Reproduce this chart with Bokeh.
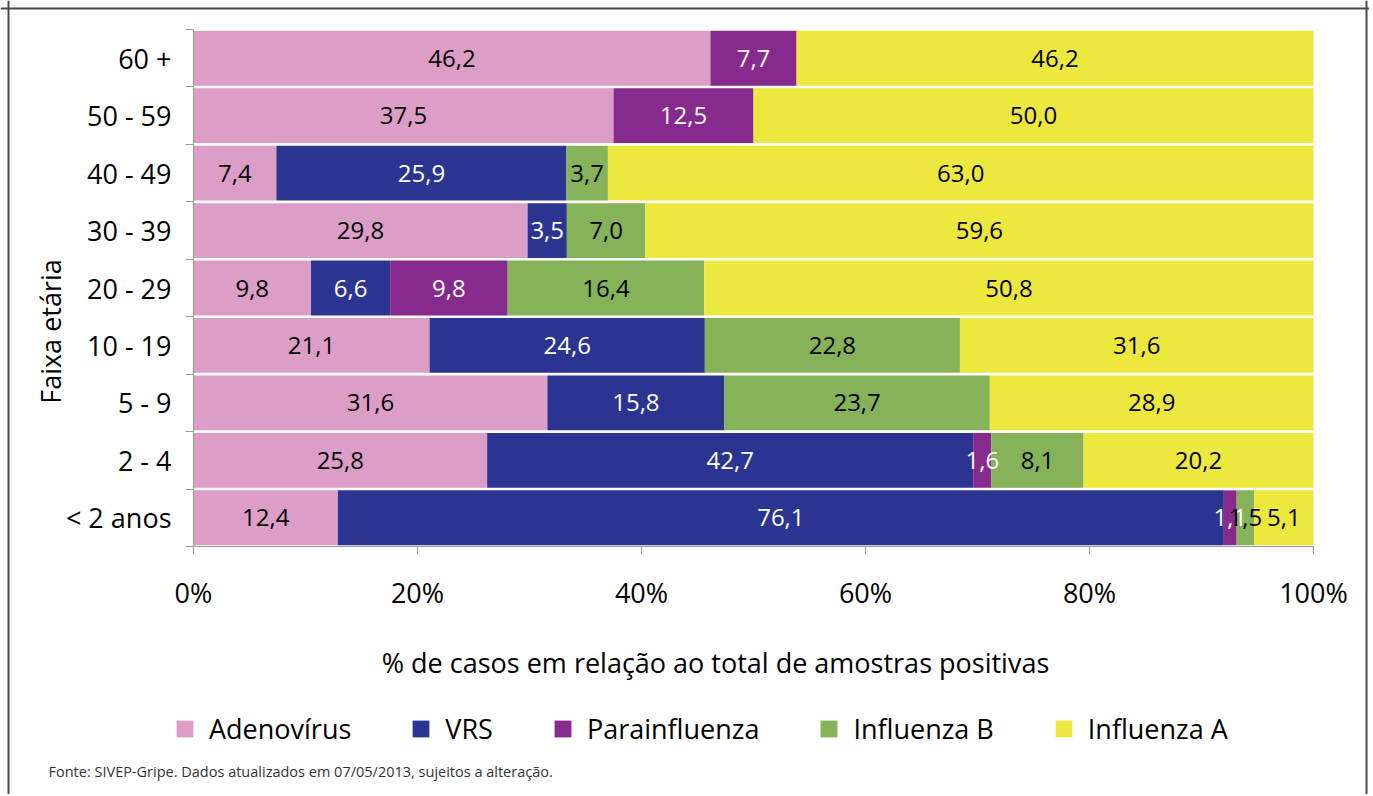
from bokeh.plotting import figure
from bokeh.models import (Range1d, FixedTicker, ColumnDataSource, Legend,
                          LegendItem, Label, Span)
from bokeh.embed import file_html
from bokeh.resources import INLINE
from bokeh.core.properties import value

# ---------------- data ----------------
age_groups = ["< 2 anos", "2 - 4", "5 - 9", "10 - 19", "20 - 29",
              "30 - 39", "40 - 49", "50 - 59", "60 +"]
series_names = ["Adenovírus", "VRS", "Parainfluenza", "Influenza B", "Influenza A"]
adenovirus = [12.4, 25.8, 31.6, 21.1, 9.8, 29.8, 7.4, 37.5, 46.2]
vrs = [76.1, 42.7, 15.8, 24.6, 6.6, 3.5, 25.9, 0.0, 0.0]
parainfluenza = [1.1, 1.6, 0.0, 0.0, 9.8, 0.0, 0.0, 12.5, 7.7]
influenza_b = [1.5, 8.1, 23.7, 22.8, 16.4, 7.0, 3.7, 0.0, 0.0]
influenza_a = [5.1, 20.2, 28.9, 31.6, 50.8, 59.6, 63.0, 50.0, 46.2]
x_ticks = [0, 20, 40, 60, 80, 100]
x_tick_labels = ["0%", "20%", "40%", "60%", "80%", "100%"]

# ---------------- styles / layout ----------------
colors = ["#DC9EC6", "#2B3490", "#862A8D", "#86B35A", "#EDE83E"]
text_colors = ["black", "white", "white", "black", "black"]
FONT = "Open Sans"
AXIS_GREY = "#9a9a9a"
FRAME_GREY = "#4a4a4a"

W, H = 1369, 794               # canvas size
PX_X0, PX_X1 = 193, 1313       # canvas px of 0% and 100%
PX_YT, PX_YB = 29, 546         # canvas px of top / bottom of the bar area

series_values = [adenovirus, vrs, parainfluenza, influenza_b, influenza_a]
n = len(age_groups)
y_pos = [i + 0.5 for i in range(n)]
totals = [sum(s[i] for s in series_values) for i in range(n)]

sx = 100.0 / (PX_X1 - PX_X0)
sy = float(n) / (PX_YB - PX_YT)
x_range = Range1d(0 - PX_X0 * sx, 100 + (W - PX_X1) * sx)
y_range = Range1d(0 - (H - PX_YB) * sy, n + PX_YT * sy)

p = figure(width=W, height=H, output_backend="svg", toolbar_location=None,
           x_range=x_range, y_range=y_range, min_border=0)
p.outline_line_color = None
p.xgrid.visible = False
p.ygrid.visible = False
p.background_fill_color = "white"
p.border_fill_color = "white"

# outer frame (left, top, right)
p.add_layout(Span(location=x_range.start + 8 * sx, dimension="height",
                  line_color=FRAME_GREY, line_width=2))
p.add_layout(Span(location=x_range.start + 1366 * sx, dimension="height",
                  line_color=FRAME_GREY, line_width=2))
p.add_layout(Span(location=y_range.end - 8 * sy, dimension="width",
                  line_color=FRAME_GREY, line_width=2))

cum = [0.0] * n
renderers = []
lab_x, lab_y, lab_t, lab_c = [], [], [], []
for k, (name, vals) in enumerate(zip(series_names, series_values)):
    left = list(cum)
    right = [cum[i] + vals[i] / totals[i] * 100 for i in range(n)]
    src = ColumnDataSource(dict(y=y_pos, left=left, right=right))
    r = p.hbar(y="y", left="left", right="right", height=0.955, source=src,
               fill_color=colors[k], line_color=None)
    renderers.append((name, r))
    for i in range(n):
        if vals[i] > 0:
            lab_x.append((left[i] + right[i]) / 2)
            lab_y.append(y_pos[i])
            lab_t.append(f"{vals[i]:.1f}".replace(".", ","))
            lab_c.append(text_colors[k])
    cum = right

lsrc = ColumnDataSource(dict(x=lab_x, y=lab_y, t=lab_t, c=lab_c))
p.text(x="x", y="y", text="t", text_color="c", source=lsrc,
       text_align="center", text_baseline="middle",
       text_font=value(FONT), text_font_size="24px")

# x axis
xa = p.xaxis[0]
xa.fixed_location = 0
xa.bounds = (0, 100)
xa.ticker = FixedTicker(ticks=x_ticks, minor_ticks=[])
xa.major_label_overrides = dict(zip(x_ticks, x_tick_labels))
xa.major_tick_out = 8
xa.major_tick_in = 0
xa.minor_tick_out = 0
xa.major_tick_line_color = AXIS_GREY
xa.axis_line_color = AXIS_GREY
xa.major_label_text_font = FONT
xa.major_label_text_font_size = "27px"
xa.major_label_text_color = "black"
xa.major_label_standoff = 19

# y axis
ya = p.yaxis[0]
ya.fixed_location = 0
ya.bounds = (0, n)
ya.ticker = FixedTicker(ticks=y_pos, minor_ticks=list(range(n + 1)))
ya.major_label_overrides = dict(zip(y_pos, age_groups))
ya.major_tick_out = 0
ya.major_tick_in = 0
ya.minor_tick_out = 8
ya.minor_tick_in = 0
ya.minor_tick_line_color = AXIS_GREY
ya.axis_line_color = AXIS_GREY
ya.major_label_text_font = FONT
ya.major_label_text_font_size = "27px"
ya.major_label_text_color = "black"
ya.major_label_standoff = 14

# axis titles and source note (screen px from the canvas bottom-left)
p.add_layout(Label(x=50, y=H - 331, x_units="screen", y_units="screen",
                   text="Faixa etária", angle=1.5707963, text_align="center",
                   text_baseline="middle", text_font=FONT,
                   text_font_size="27px", text_color="black"))
p.add_layout(Label(x=715, y=H - 662, x_units="screen", y_units="screen",
                   text="% de casos em relação ao total de amostras positivas",
                   text_align="center", text_baseline="middle", text_font=FONT,
                   text_font_size="27px", text_color="black"))
p.add_layout(Label(x=48, y=H - 771, x_units="screen", y_units="screen",
                   text="Fonte: SIVEP-Gripe. Dados atualizados em 07/05/2013, sujeitos a alteração.",
                   text_align="left", text_baseline="middle", text_font=FONT,
                   text_font_size="14.5px", text_color="#333333"))

legend = Legend(items=[LegendItem(label=nm, renderers=[r]) for nm, r in renderers],
                orientation="horizontal", location=(174, H - 747),
                glyph_width=21, glyph_height=21, label_standoff=14, spacing=59,
                padding=0, margin=0, border_line_alpha=0, background_fill_alpha=0,
                label_text_font=FONT, label_text_font_size="27px",
                label_text_color="black")
p.add_layout(legend)

open("out.html", "w").write(file_html(p, INLINE))
